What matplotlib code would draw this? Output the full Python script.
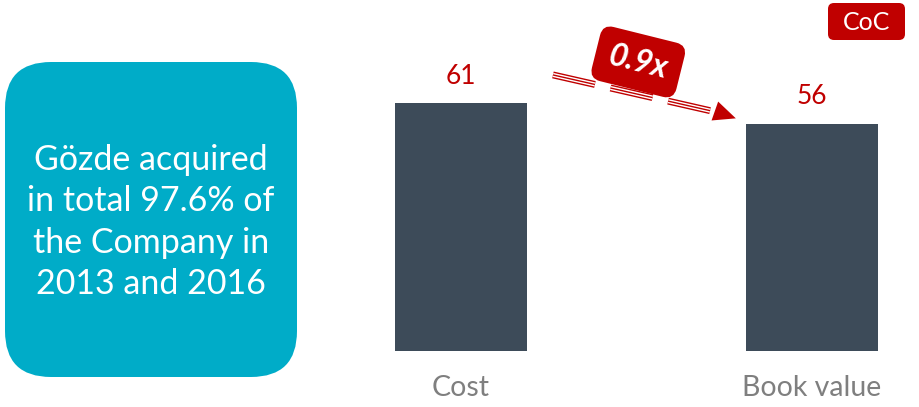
import matplotlib
matplotlib.use('Agg')
from matplotlib import pyplot as plt
from matplotlib.patches import FancyBboxPatch
import numpy as np

categories = ['Cost', 'Book value']
values = [61, 56]
multiple_label = '0.9x'
note_text = 'Gözde acquired\nin total 97.6% of\nthe Company in\n2013 and 2016'
badge_text = 'CoC'

RED = '#C00000'
BAR = '#3D4B59'
TEAL = '#00ACC8'
GREY = '#7F7F7F'
W, H = 920, 407

plt.rcParams['font.family'] = ['Lato', 'DejaVu Sans']
plt.rcParams['lines.scale_dashes'] = False


def px(x, y):
    # pixel coords (from top-left) -> figure fraction
    return x / W, 1 - y / H


def main():
    fig = plt.figure(figsize=(W / 100, H / 100), dpi=100)

    # overlay in pixel units for the boxes
    over = fig.add_axes([0, 0, 1, 1])
    over.set_xlim(0, W)
    over.set_ylim(H, 0)
    over.axis('off')

    over.add_patch(FancyBboxPatch((5, 62), 292, 315,
                                  boxstyle='round,pad=0,rounding_size=46',
                                  facecolor=TEAL, edgecolor='none'))
    over.text(151, 222, note_text, ha='center', va='center', color='white',
              fontsize=24.5, linespacing=1.36)

    over.add_patch(FancyBboxPatch((828, 3), 77, 37,
                                  boxstyle='round,pad=0,rounding_size=6',
                                  facecolor=RED, edgecolor='none'))
    over.text(866.5, 22, badge_text, ha='center', va='center', color='white',
              fontsize=18)

    # bar axes
    ax_l, ax_b = px(380, 351)
    ax_r, ax_t = px(893, 10)
    ax = fig.add_axes([ax_l, ax_b, ax_r - ax_l, ax_t - ax_b])
    scale = 351 / 1.0
    ax.set_xlim(-(461 - 380) / scale, 1 + (893 - 812) / scale)
    ax.set_ylim(0, (351 - 10) / 4.06)
    ax.axis('off')

    xs = np.arange(len(categories))
    ax.bar(xs, values, width=132 / scale, color=BAR)
    for x, v, c in zip(xs, values, categories):
        ax.text(x, v + 3.6, str(v), ha='center', va='bottom', color=RED, fontsize=19)
        ax.text(x, -6, c, ha='center', va='top', color=GREY, fontsize=20.5,
                clip_on=False)

    # dashed striped arrow between bars
    start = (0.262, values[0] + 7)
    end = (0.74, values[1] + 2.6)
    xs_l = [start[0], end[0]]
    ys_l = [start[1], end[1]]
    pattern = (31, 11.5)
    for col, lw in [(RED, 5), ('white', 3), (RED, 1)]:
        ax.plot(xs_l, ys_l, color=col, lw=lw, dashes=pattern,
                dash_capstyle='butt', solid_capstyle='butt')
    ax.annotate('', xy=(0.783, values[1] + 1.3), xytext=end,
                arrowprops=dict(arrowstyle='-|>,head_length=1.0,head_width=0.45',
                                mutation_scale=16, color=RED, lw=0,
                                shrinkA=0, shrinkB=0))

    # multiple badge
    ax.text(0.505, 71.2, multiple_label, ha='center', va='center', color='white',
            fontsize=23, fontweight='bold', fontstyle='italic', rotation=-14,
            rotation_mode='anchor',
            bbox=dict(boxstyle='round,pad=0.42,rounding_size=0.35',
                      facecolor=RED, edgecolor='none'))

    fig.savefig('out.png', dpi=100)
    plt.close('all')


if __name__ == '__main__':
    main()
